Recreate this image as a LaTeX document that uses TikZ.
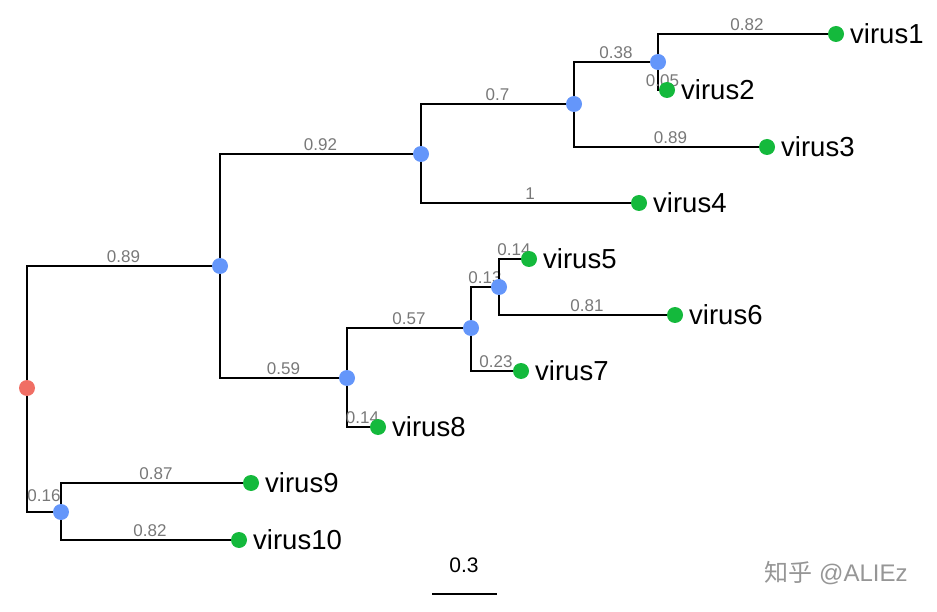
\documentclass[tikz,border=0pt]{standalone}
\usepackage{fontspec}
\setmainfont{Liberation Sans}
\newfontfamily\cjk{Noto Sans CJK SC}
\begin{document}
\begin{tikzpicture}[x=1pt,y=-1pt,
 br/.style={line width=1.4pt,black},
 inner/.style={circle,fill={rgb,255:red,100;green,150;blue,250},inner sep=0pt,minimum size=16pt},
 tip/.style={circle,fill={rgb,255:red,20;green,185;blue,60},inner sep=0pt,minimum size=16pt},
 rootn/.style={circle,fill={rgb,255:red,240;green,110;blue,100},inner sep=0pt,minimum size=16pt},
 tl/.style={anchor=west,font=\fontsize{27.5}{27.5}\selectfont,inner sep=2pt},
 bl/.style={text={rgb,255:red,120;green,120;blue,120},font=\fontsize{17}{17}\selectfont,inner sep=3pt,anchor=south}]
\useasboundingbox (0,0) rectangle (937,612);
\coordinate (r) at (27,388);
\coordinate (a) at (220,266);
\coordinate (b) at (421,154);
\coordinate (c) at (574,104);
\coordinate (d) at (658,62);
\coordinate (e) at (347,378);
\coordinate (f) at (471,328);
\coordinate (g) at (499,287);
\coordinate (h) at (61,512);
\coordinate (t1) at (836,34);
\coordinate (t2) at (667,90);
\coordinate (t3) at (767,147);
\coordinate (t4) at (639,203);
\coordinate (t5) at (529,259);
\coordinate (t6) at (675,315);
\coordinate (t7) at (521,371);
\coordinate (t8) at (378,427);
\coordinate (t9) at (251,483);
\coordinate (t10) at (239,540);
\draw[br] (r) |- (a) node[bl,pos=0.75]{0.89};
\draw[br] (r) |- (h);
\draw[br] (a) |- (b) node[bl,pos=0.75]{0.92};
\draw[br] (a) |- (e) node[bl,pos=0.75]{0.59};
\draw[br] (b) |- (c) node[bl,pos=0.75]{0.7};
\draw[br] (b) |- (t4) node[bl,pos=0.75]{1};
\draw[br] (c) |- (d) node[bl,pos=0.75]{0.38};
\draw[br] (c) |- (t3) node[bl,pos=0.75]{0.89};
\draw[br] (d) |- (t1) node[bl,pos=0.75]{0.82};
\draw[br] (d) |- (t2) node[bl,pos=0.75]{0.05};
\draw[br] (e) |- (f) node[bl,pos=0.75]{0.57};
\draw[br] (e) |- (t8) node[bl,pos=0.75]{0.14};
\draw[br] (f) |- (g) node[bl,pos=0.75]{0.13};
\draw[br] (f) |- (t7) node[bl,pos=0.75]{0.23};
\draw[br] (g) |- (t5) node[bl,pos=0.75]{0.14};
\draw[br] (g) |- (t6) node[bl,pos=0.75]{0.81};
\draw[br] (h) |- (t9) node[bl,pos=0.75]{0.87};
\draw[br] (h) |- (t10) node[bl,pos=0.75]{0.82};
\node[bl,anchor=center] (l16) at (44,496) {0.16};
\node[rootn] (nr) at (r) {};
\foreach \n in {a,b,c,d,e,f,g,h} \node[inner] (n\n) at (\n) {};
\foreach \i in {1,...,10} {\node[tip] (nt\i) at (t\i) {}; \node[tl] (lab\i) at ([xshift=12pt]t\i) {virus\i};}
\coordinate (s1) at (432,594); \coordinate (s2) at (497,594);
\draw[br] (s1) -- (s2);
\node[font=\fontsize{21}{21}\selectfont] (sl) at (464,565) {0.3};
\node[font=\fontsize{24}{24}\selectfont,text={rgb,255:red,150;green,150;blue,150}] (wm) at (836,573) {{\cjk 知乎} @ALIEz};
\end{tikzpicture}
\end{document}
